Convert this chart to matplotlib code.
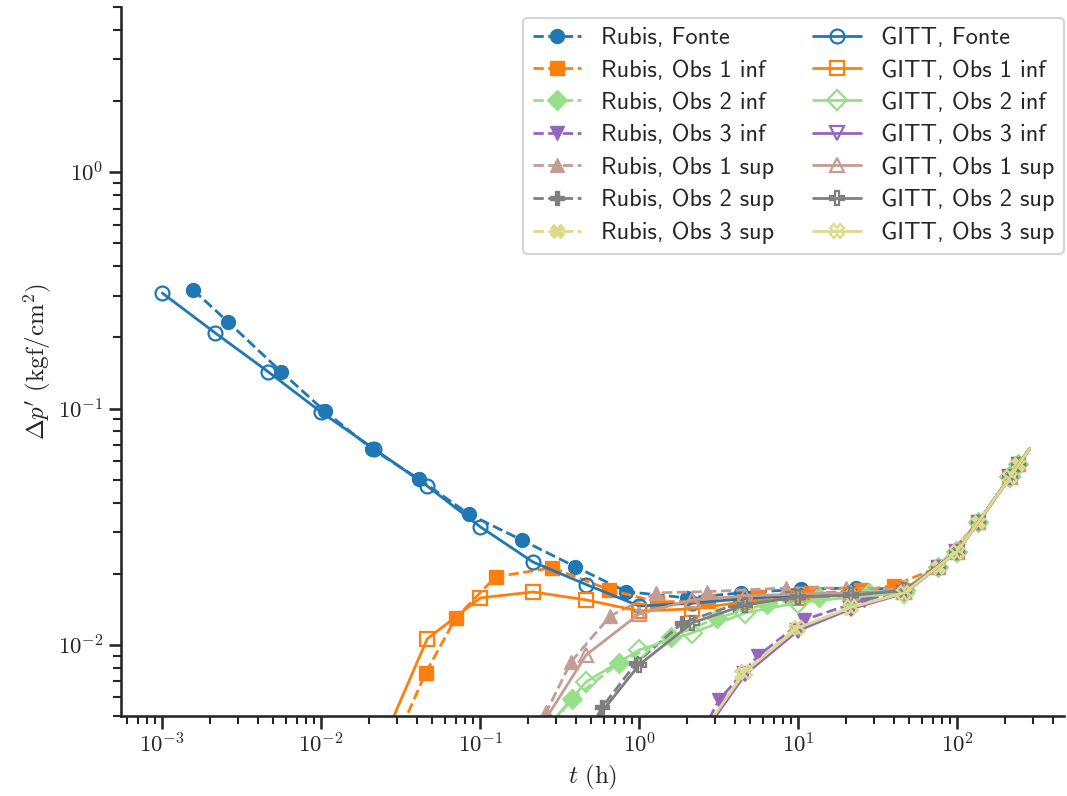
import numpy as np
import matplotlib
matplotlib.use("Agg")
import matplotlib.pyplot as plt
import matplotlib.ticker as mticker
import seaborn as sns

sns.set_style("ticks")
sns.set_context("talk")
plt.rcParams["font.family"] = ["cmss10", "DejaVu Sans"]
plt.rcParams["mathtext.fontset"] = "cm"
plt.rcParams["axes.unicode_minus"] = False

# tempos (h) e derivada da pressao (kgf/cm2) -- Rubis
t_rubis_fonte = [1.57e-3, 2.6e-3, 5.6e-3, 0.0105, 0.0208, 0.041, 0.0845, 0.182, 0.397, 0.83,
                 2.0, 4.4, 10.4, 23, 47, 76, 136, 243, 285]
dp_rubis_fonte = [0.317, 0.232, 0.143, 0.0976, 0.0675, 0.0504, 0.0358, 0.0278, 0.0214, 0.0168,
                  0.0158, 0.0166, 0.0172, 0.0174, 0.0172, 0.0213, 0.033, 0.058, 0.0675]

t_rubis_obs1i = [0.025, 0.0454, 0.0702, 0.125, 0.284, 0.648, 1.30, 2.7, 5.6, 12, 25, 40,
                 76, 136, 243, 285]
dp_rubis_obs1i = [0.00305, 0.00762, 0.0130, 0.0194, 0.0212, 0.0171, 0.0152, 0.0153, 0.0160,
                  0.0165, 0.0170, 0.0178, 0.0213, 0.033, 0.058, 0.0675]

t_rubis_obs2i = [0.25, 0.380, 0.750, 1.59, 3.09, 6.37, 13.5, 28, 47, 76, 136, 243, 285]
dp_rubis_obs2i = [0.0042, 0.00591, 0.00839, 0.0108, 0.0130, 0.0149, 0.0160, 0.0166, 0.0170,
                  0.0213, 0.033, 0.058, 0.0675]

t_rubis_obs3i = [2.5, 3.18, 5.59, 10.9, 25.9, 47, 76, 136, 243, 285]
dp_rubis_obs3i = [0.0043, 0.00585, 0.00898, 0.01276, 0.0155, 0.0168, 0.0213, 0.033, 0.058, 0.0675]

t_rubis_obs1s = [0.2, 0.261, 0.373, 0.659, 1.28, 2.68, 8.4, 20, 47, 76, 136, 243, 285]
dp_rubis_obs1s = [0.0034, 0.00521, 0.00848, 0.01327, 0.0166, 0.0168, 0.0174, 0.0174, 0.0172,
                  0.0213, 0.033, 0.058, 0.0675]

t_rubis_obs2s = [0.4, 0.587, 0.959, 1.87, 4.0, 8.5, 20, 47, 76, 136, 243, 285]
dp_rubis_obs2s = [0.00345, 0.00547, 0.00839, 0.01239, 0.0148, 0.0158, 0.0163, 0.0170,
                  0.0213, 0.033, 0.058, 0.0675]

t_rubis_obs3s = [2.5, 4.4, 9.5, 21, 47, 76, 136, 243, 285]
dp_rubis_obs3s = [0.0040, 0.0075, 0.0117, 0.0143, 0.0167, 0.0213, 0.033, 0.058, 0.0675]

# GITT
t_gitt_fonte = [1e-3, 2.15e-3, 4.64e-3, 0.01, 0.0215, 0.0464, 0.1, 0.215, 0.464, 1.0,
                2.15, 4.64, 10, 21.5, 46.4, 100, 215, 285]
dp_gitt_fonte = [0.308, 0.209, 0.143, 0.0965, 0.0675, 0.047, 0.0316, 0.0224, 0.018, 0.0146,
                 0.0150, 0.0157, 0.0162, 0.0166, 0.0168, 0.0248, 0.0512, 0.0675]

t_gitt_obs1i = [0.0215, 0.0464, 0.1, 0.215, 0.464, 1.0, 2.15, 4.64, 10, 21.5, 46.4, 100, 215, 285]
dp_gitt_obs1i = [0.0032, 0.0106, 0.0158, 0.01675, 0.0155, 0.0139, 0.0142, 0.0152, 0.0158,
                 0.0163, 0.0168, 0.0248, 0.0512, 0.0675]

t_gitt_obs2i = [0.215, 0.464, 1.0, 2.15, 4.64, 10, 21.5, 46.4, 100, 215, 285]
dp_gitt_obs2i = [0.0038, 0.00698, 0.00952, 0.01124, 0.01365, 0.0151, 0.0159, 0.0166,
                 0.0248, 0.0512, 0.0675]

t_gitt_obs3i = [2.15, 4.64, 10, 21.5, 46.4, 100, 215, 285]
dp_gitt_obs3i = [0.0036, 0.0075, 0.0115, 0.0142, 0.0165, 0.0248, 0.0512, 0.0675]

t_gitt_obs1s = [0.215, 0.464, 1.0, 2.15, 4.64, 10, 21.5, 46.4, 100, 215, 285]
dp_gitt_obs1s = [0.0040, 0.00907, 0.01352, 0.0155, 0.0161, 0.0164, 0.0166, 0.0168,
                 0.0248, 0.0512, 0.0675]

t_gitt_obs2s = [0.464, 1.0, 2.15, 4.64, 10, 21.5, 46.4, 100, 215, 285]
dp_gitt_obs2s = [0.0043, 0.00823, 0.01239, 0.01476, 0.0160, 0.0162, 0.0170, 0.0248, 0.0512, 0.0675]

t_gitt_obs3s = [2.15, 4.64, 10, 21.5, 46.4, 100, 215, 285]
dp_gitt_obs3s = [0.0037, 0.0077, 0.0118, 0.0144, 0.0166, 0.0248, 0.0512, 0.0675]

nomes = ["Fonte", "Obs 1 inf", "Obs 2 inf", "Obs 3 inf", "Obs 1 sup", "Obs 2 sup", "Obs 3 sup"]
cores = ["#1f77b4", "#ff7f0e", "#98df8a", "#9467bd", "#c49c94", "#7f7f7f", "#dbdb8d"]
marcadores = ["o", "s", "D", "v", "^", "P", "X"]

rubis = [(t_rubis_fonte, dp_rubis_fonte), (t_rubis_obs1i, dp_rubis_obs1i),
         (t_rubis_obs2i, dp_rubis_obs2i), (t_rubis_obs3i, dp_rubis_obs3i),
         (t_rubis_obs1s, dp_rubis_obs1s), (t_rubis_obs2s, dp_rubis_obs2s),
         (t_rubis_obs3s, dp_rubis_obs3s)]
gitt = [(t_gitt_fonte, dp_gitt_fonte), (t_gitt_obs1i, dp_gitt_obs1i),
        (t_gitt_obs2i, dp_gitt_obs2i), (t_gitt_obs3i, dp_gitt_obs3i),
        (t_gitt_obs1s, dp_gitt_obs1s), (t_gitt_obs2s, dp_gitt_obs2s),
        (t_gitt_obs3s, dp_gitt_obs3s)]

fig = plt.figure(figsize=(10.67, 7.96), dpi=100)
ax = fig.add_axes([121 / 1067, 80 / 796, 943 / 1067, 709 / 796])

for (t, dp), nome, cor, m in zip(rubis, nomes, cores, marcadores):
    ax.plot(t, dp, "--", color=cor, marker=m, ms=10, lw=2,
            markevery=list(range(len(t) - 1)), label="Rubis, " + nome)

for (t, dp), nome, cor, m in zip(gitt, nomes, cores, marcadores):
    ax.plot(t, dp, "-", color=cor, marker=m, ms=10, lw=2, mfc="none", mew=1.6,
            markevery=list(range(len(t) - 1)), label="GITT, " + nome)

ax.set_xscale("log")
ax.set_yscale("log")
ax.set_xlim(5.5e-4, 470)
ax.set_ylim(5e-3, 5)

# rotulos 10^n em Computer Modern
pot10 = mticker.FuncFormatter(lambda v, pos: r"$10^{%d}$" % int(round(np.log10(v))))
ax.xaxis.set_major_formatter(pot10)
ax.yaxis.set_major_formatter(pot10)

ax.set_xlabel(r"$t\ (\mathrm{h})$")
ax.set_ylabel(r"$\Delta p'\ (\mathrm{kgf/cm^2})$")
sns.despine(ax=ax)
ax.legend(ncol=2, loc="upper right", bbox_to_anchor=(1.0, 0.985), borderaxespad=0,
          fontsize=17.5, columnspacing=1.6, labelspacing=0.42)

fig.savefig("out.png", dpi=100)
